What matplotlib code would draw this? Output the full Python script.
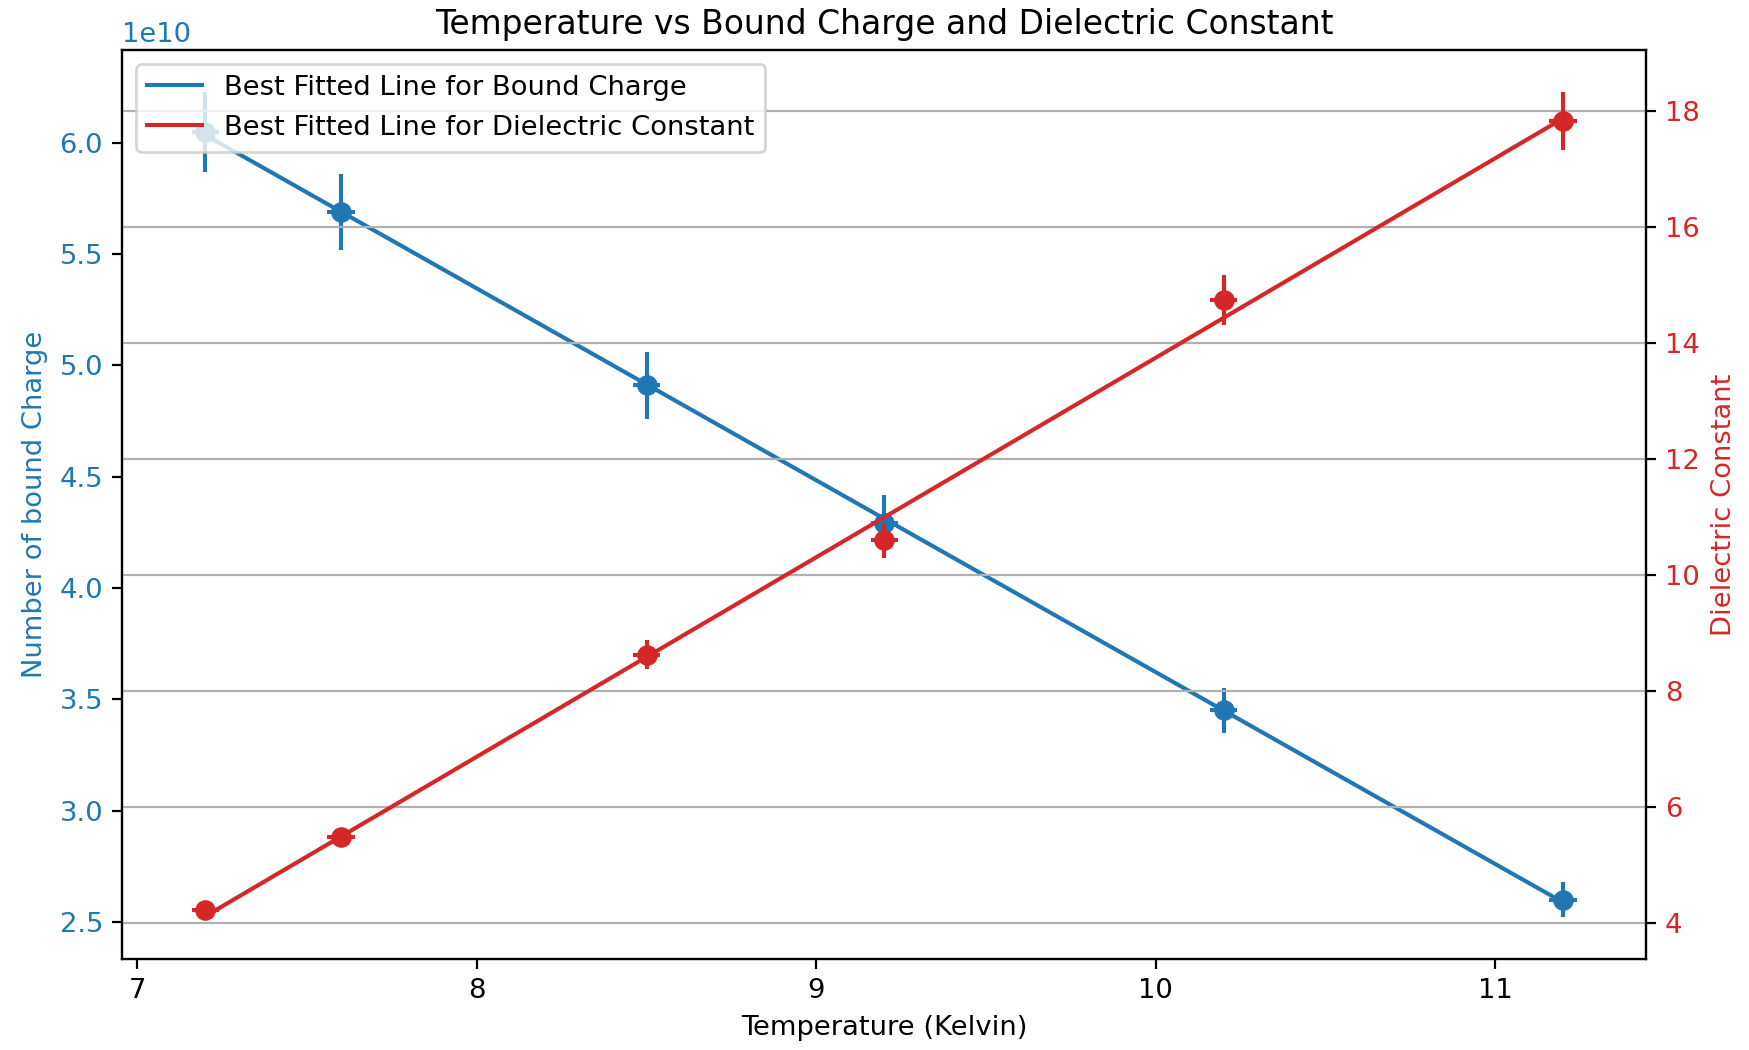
import numpy as np
import matplotlib
matplotlib.use("Agg")
import matplotlib.pyplot as plt

temperature = np.array([7.2, 7.6, 8.5, 9.2, 10.2, 11.2])
temp_err = np.array([0.04, 0.04, 0.04, 0.04, 0.04, 0.04])

bound_charge = np.array([6.05, 5.69, 4.91, 4.29, 3.45, 2.60]) * 1e10
bound_err = np.array([0.18, 0.17, 0.15, 0.13, 0.10, 0.08]) * 1e10

dielectric = np.array([4.21, 5.48, 8.62, 10.59, 14.73, 17.83])
dielectric_err = np.array([0.12, 0.15, 0.25, 0.30, 0.43, 0.50])

xticks = [7, 8, 9, 10, 11]

# straight-line fits
p_b = np.polyfit(temperature, bound_charge, 1)
p_d = np.polyfit(temperature, dielectric, 1)

dpi = 197.6
fig, ax = plt.subplots(figsize=(1749 / dpi, 1050 / dpi), dpi=dpi)
fig.subplots_adjust(left=0.070, right=0.941, top=0.952, bottom=0.087)

blue, red = "tab:blue", "tab:red"
ax.errorbar(temperature, bound_charge, yerr=bound_err, xerr=temp_err,
            fmt="o", color=blue, markersize=6.5)
l1, = ax.plot(temperature, np.polyval(p_b, temperature), color=blue,
              label="Best Fitted Line for Bound Charge")
ax.set_xticks(xticks)
ax.set_xlabel("Temperature (Kelvin)")
ax.set_ylabel("Number of bound Charge", color=blue)
ax.tick_params(axis="y", labelcolor=blue)
ax.yaxis.get_offset_text().set_color(blue)

ax2 = ax.twinx()
ax2.errorbar(temperature, dielectric, yerr=dielectric_err, xerr=temp_err,
             fmt="o", color=red, markersize=6.5)
l2, = ax2.plot(temperature, np.polyval(p_d, temperature), color=red,
               label="Best Fitted Line for Dielectric Constant")
ax2.set_ylabel("Dielectric Constant", color=red)
ax2.tick_params(axis="y", labelcolor=red)
ax2.grid(True)
ax2.legend(handles=[l1, l2], loc="upper left")

ax.set_title("Temperature vs Bound Charge and Dielectric Constant")
plt.savefig("out.png")
